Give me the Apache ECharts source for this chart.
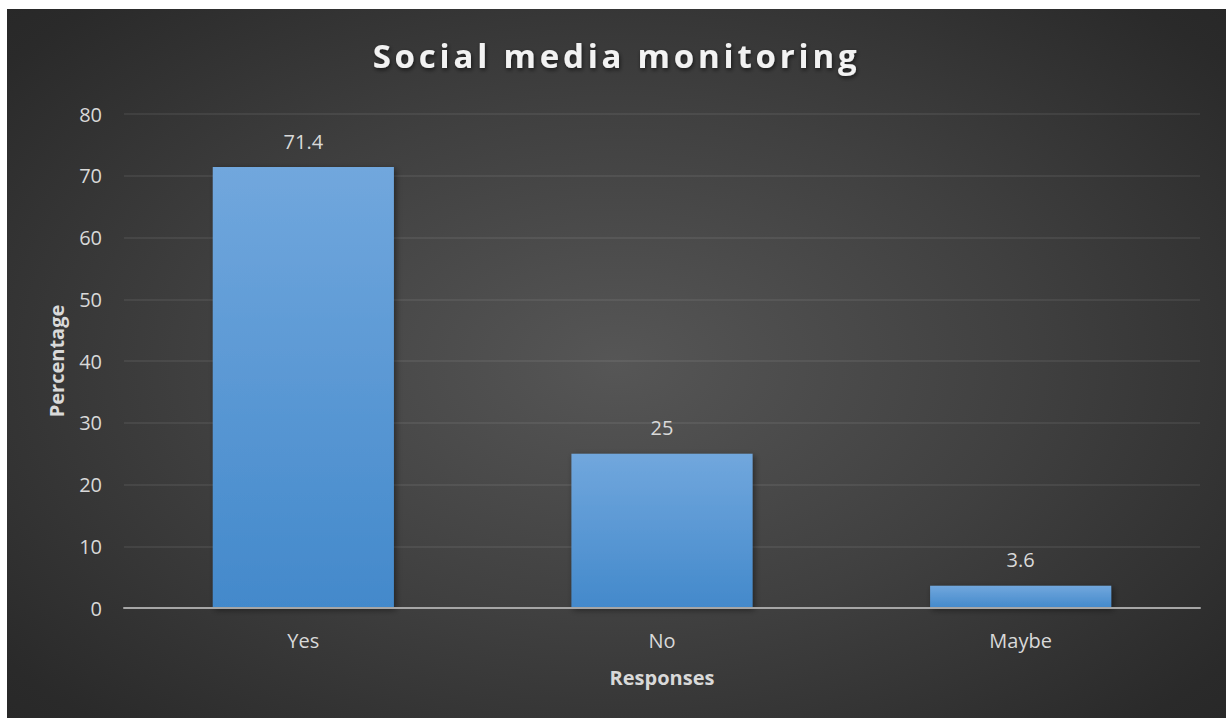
<!DOCTYPE html>
<html>
<head>
<meta charset="utf-8">
<script src="https://cdn.jsdelivr.net/npm/echarts@6/dist/echarts.min.js"></script>
<style>
  html, body { margin: 0; padding: 0; background: #ffffff; width: 1226px; height: 718px; overflow: hidden; }
  #chart {
    position: absolute; left: 7px; top: 9px; width: 1219px; height: 709px;
    background: radial-gradient(ellipse 75% 80% at 50% 50%, #565656 0%, #404040 45%, #2a2a2a 85%, #262626 100%);
  }
</style>
</head>
<body>
<div id="chart"></div>
<script>
// Survey responses (percent of respondents)
const categories = ['Yes', 'No', 'Maybe'];
const percentages = [71.4, 25, 3.6];
const yTicks = { min: 0, max: 80, interval: 10 };
const titleText = 'Social media monitoring';

const chart = echarts.init(document.getElementById('chart'), null, { renderer: 'svg' });

const labelFont = '"Open Sans", "Liberation Sans", sans-serif';
const barGradient = new echarts.graphic.LinearGradient(0, 0, 0, 1, [
  { offset: 0, color: '#71a7dd' },
  { offset: 1, color: '#4389cb' }
]);

// Widen the title's tracking (letter spacing) once it is in the SVG tree
function spaceTitle() {
  document.querySelectorAll('#chart text').forEach(function (t) {
    if (t.textContent === titleText) {
      t.style.letterSpacing = '3.8px';
    }
  });
}
chart.on('rendered', spaceTitle);
chart.on('finished', spaceTitle);

chart.setOption({
  backgroundColor: 'transparent',
  animation: false,
  title: {
    text: titleText,
    left: 'center',
    top: 25,
    textStyle: {
      color: '#f2f2f2',
      fontFamily: labelFont,
      fontWeight: 'bold',
      fontSize: 33,
      textShadowColor: 'rgba(0,0,0,0.6)',
      textShadowBlur: 4,
      textShadowOffsetX: 1,
      textShadowOffsetY: 2
    }
  },
  grid: { left: 117, right: 26, top: 105, bottom: 110, containLabel: false },
  xAxis: {
    type: 'category',
    data: categories,
    name: 'Responses',
    nameLocation: 'middle',
    nameGap: 59,
    nameTextStyle: { color: '#d9d9d9', fontFamily: labelFont, fontWeight: 'bold', fontSize: 20 },
    axisLine: { show: true, lineStyle: { color: '#a6a6a6', width: 2 } },
    axisTick: { show: false },
    axisLabel: { color: '#d9d9d9', fontFamily: labelFont, fontSize: 20, margin: 22 },
    z: 5
  },
  yAxis: {
    type: 'value',
    min: yTicks.min,
    max: yTicks.max,
    interval: yTicks.interval,
    name: 'Percentage',
    nameLocation: 'middle',
    nameGap: 58,
    nameRotate: 90,
    nameTextStyle: { color: '#d9d9d9', fontFamily: labelFont, fontWeight: 'bold', fontSize: 20 },
    axisLine: { show: false },
    axisTick: { show: false },
    axisLabel: { color: '#d9d9d9', fontFamily: labelFont, fontSize: 20, margin: 22 },
    splitLine: { lineStyle: { color: 'rgba(255,255,255,0.09)', width: 1.5 } }
  },
  series: [{
    type: 'bar',
    data: percentages,
    barWidth: '50.5%',
    itemStyle: {
      color: barGradient,
      shadowColor: 'rgba(0,0,0,0.45)',
      shadowBlur: 6,
      shadowOffsetX: 2,
      shadowOffsetY: 2
    },
    label: {
      show: true,
      position: 'top',
      distance: 16,
      color: '#d9d9d9',
      fontFamily: labelFont,
      fontSize: 20
    }
  }]
});
spaceTitle();
</script>
</body>
</html>
